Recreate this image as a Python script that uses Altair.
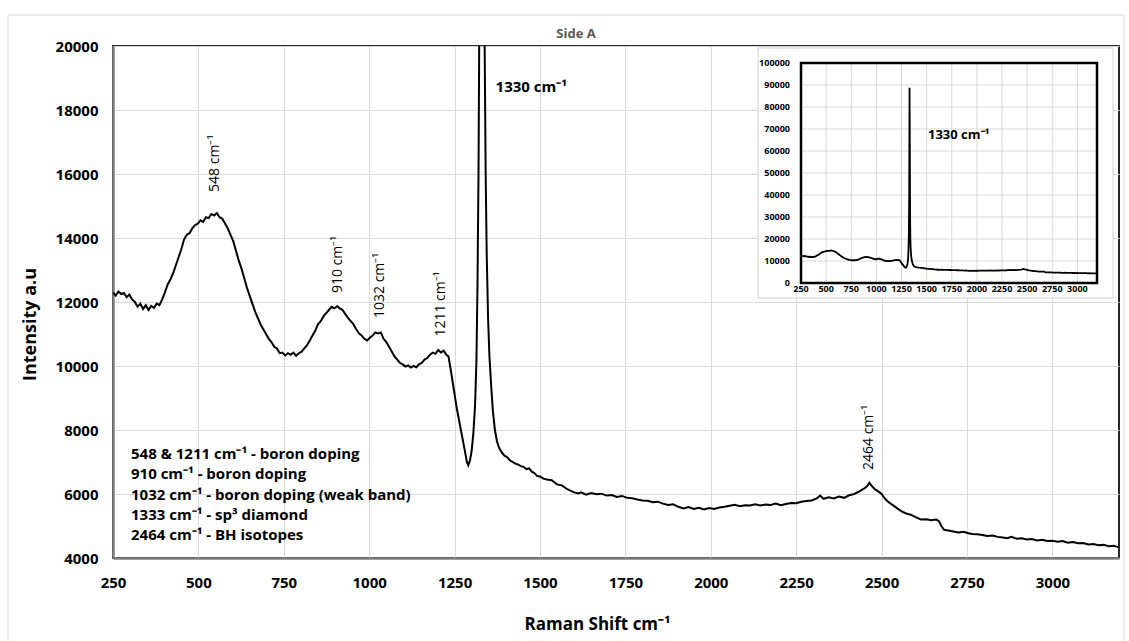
import altair as alt
import pandas as pd

# ---------------- data ----------------
raman_shift = [
    250, 258, 266, 274, 282, 290, 298, 306, 314, 322, 330, 338, 346, 354, 362, 370, 378, 386, 394,
    402, 410, 418, 426, 434, 442, 450, 458, 466, 474, 482, 490, 498, 506, 514, 522, 530, 538, 546,
    554, 562, 570, 578, 586, 594, 602, 610, 618, 626, 634, 642, 650, 658, 666, 674, 682, 690, 698,
    706, 714, 722, 730, 738, 746, 754, 762, 770, 778, 786, 794, 802, 810, 818, 826, 834, 842, 850,
    858, 866, 874, 882, 890, 898, 906, 914, 922, 930, 938, 946, 954, 962, 970, 978, 986, 994, 1002,
    1010, 1018, 1026, 1034, 1042, 1050, 1058, 1066, 1074, 1082, 1090, 1098, 1106, 1114, 1122, 1130,
    1138, 1146, 1154, 1162, 1170, 1178, 1186, 1194, 1202, 1210, 1218, 1226, 1232, 1240, 1248, 1256,
    1264, 1272, 1280, 1286, 1290, 1295, 1300, 1305, 1310, 1314, 1317, 1320, 1323, 1326, 1328, 1330,
    1332, 1334, 1336, 1338, 1341, 1344, 1348, 1352, 1357, 1362, 1368, 1374, 1380, 1388, 1396, 1404,
    1412, 1420, 1428, 1436, 1444, 1452, 1460, 1468, 1476, 1484, 1492, 1500, 1510, 1520, 1534, 1550,
    1564, 1580, 1600, 1613, 1620, 1635, 1650, 1665, 1680, 1695, 1710, 1725, 1740, 1755, 1770, 1785,
    1800, 1815, 1830, 1845, 1860, 1875, 1890, 1905, 1920, 1935, 1950, 1965, 1980, 1995, 2010, 2025,
    2040, 2055, 2070, 2085, 2100, 2115, 2130, 2145, 2160, 2175, 2190, 2205, 2220, 2235, 2250, 2265,
    2280, 2295, 2310, 2320, 2330, 2345, 2360, 2375, 2390, 2405, 2420, 2435, 2450, 2458, 2464, 2470,
    2480, 2490, 2500, 2510, 2520, 2537, 2550, 2560, 2570, 2585, 2600, 2615, 2630, 2645, 2660, 2668,
    2675, 2683, 2695, 2710, 2725, 2740, 2752, 2765, 2780, 2795, 2810, 2825, 2840, 2855, 2868, 2880,
    2895, 2910, 2925, 2940, 2955, 2970, 2985, 3000, 3015, 3030, 3045, 3060, 3075, 3090, 3105, 3120,
    3135, 3150, 3165, 3180, 3192,
]
intensity = [
    12300, 12200, 12330, 12250, 12280, 12150, 12230, 12080, 12000, 11850, 11950, 11780, 11900, 11750,
    11880, 11820, 11950, 11900, 12080, 12300, 12550, 12700, 12900, 13150, 13400, 13650, 13950, 14100,
    14150, 14300, 14400, 14450, 14550, 14500, 14650, 14620, 14750, 14700, 14780, 14650, 14600, 14450,
    14300, 14100, 13900, 13600, 13300, 13050, 12750, 12450, 12200, 11950, 11700, 11500, 11300, 11150,
    11000, 10850, 10750, 10600, 10550, 10400, 10420, 10330, 10400, 10350, 10420, 10320, 10400, 10450,
    10550, 10650, 10800, 10950, 11100, 11300, 11400, 11550, 11650, 11750, 11850, 11800, 11870, 11800,
    11750, 11620, 11500, 11400, 11300, 11150, 11020, 10950, 10850, 10800, 10880, 10950, 11050, 11020,
    11050, 10850, 10750, 10600, 10450, 10300, 10200, 10100, 10050, 9980, 10020, 9950, 10000, 9960,
    10050, 10100, 10200, 10250, 10350, 10420, 10380, 10500, 10420, 10480, 10350, 10300, 9800, 9250,
    8700, 8250, 7800, 7350, 7000, 6900, 7050, 7350, 7900, 8800, 10200, 12500, 16000, 22000, 38000,
    60000, 88800, 70000, 45000, 28000, 20000, 16000, 13500, 11500, 10300, 9400, 8600, 8000, 7650,
    7450, 7300, 7200, 7150, 7050, 7000, 6950, 6920, 6870, 6850, 6780, 6800, 6700, 6650, 6560, 6550,
    6480, 6450, 6430, 6300, 6270, 6150, 6050, 6020, 6050, 5980, 6030, 5990, 6010, 5950, 5970, 5910,
    5940, 5880, 5870, 5830, 5800, 5790, 5740, 5760, 5700, 5660, 5680, 5600, 5550, 5590, 5530, 5570,
    5520, 5560, 5530, 5580, 5600, 5630, 5660, 5620, 5650, 5640, 5680, 5640, 5670, 5660, 5700, 5650,
    5690, 5720, 5710, 5760, 5780, 5800, 5860, 5950, 5850, 5900, 5860, 5920, 5880, 5960, 6000, 6080,
    6180, 6250, 6350, 6270, 6150, 6080, 6000, 5850, 5750, 5620, 5520, 5450, 5400, 5354, 5280, 5200,
    5210, 5180, 5200, 5150, 5000, 4880, 4860, 4830, 4800, 4820, 4780, 4750, 4740, 4720, 4690, 4700,
    4660, 4640, 4620, 4660, 4600, 4620, 4580, 4590, 4550, 4570, 4530, 4540, 4510, 4530, 4480, 4500,
    4460, 4470, 4420, 4440, 4400, 4410, 4370, 4380, 4340,
]

x_ticks = [250, 500, 750, 1000, 1250, 1500, 1750, 2000, 2250, 2500, 2750, 3000]
y_ticks = [4000, 6000, 8000, 10000, 12000, 14000, 16000, 18000, 20000]
inset_y_ticks = [0, 10000, 20000, 30000, 40000, 50000, 60000, 70000, 80000, 90000, 100000]

peak_names = ["548 cm⁻¹", "910 cm⁻¹", "1032 cm⁻¹", "1211 cm⁻¹", "2464 cm⁻¹"]
peak_x = [548, 910, 1032, 1211, 2464]
peak_label_y = [15440, 12280, 11500, 10920, 6750]

chart_title = "Side A"
main_peak_label = "1330 cm⁻¹"
legend_lines = [
    "548 & 1211 cm⁻¹ - boron doping",
    "910 cm⁻¹ - boron doping",
    "1032 cm⁻¹ - boron doping (weak band)",
    "1333 cm⁻¹ - sp³ diamond",
    "2464 cm⁻¹ - BH isotopes",
]

# ---------------- tables ----------------
spec = pd.DataFrame({"x": raman_shift, "y": intensity})
peaks = pd.DataFrame({"x": peak_x, "y": peak_label_y, "label": peak_names})
one = pd.DataFrame({"x": [1370], "y": [18730], "label": [main_peak_label]})
legend_df = pd.DataFrame({"txt": ["\n".join(legend_lines)]})
title_df = pd.DataFrame({"txt": [chart_title]})
gx = pd.DataFrame({"gx": x_ticks})
gy = pd.DataFrame({"gy": inset_y_ticks})
dummy = pd.DataFrame({"a": [0]})

FONT = "Open Sans"
XMIN, XMAX = 250, 3195

# ---------------- main panel ----------------
xs = alt.Scale(domain=[XMIN, XMAX], nice=False, zero=False)
ys = alt.Scale(domain=[4000, 20000], nice=False, zero=False)

x_axis = alt.Axis(
    values=x_ticks, format="d", title="Raman Shift cm⁻¹", grid=True, gridColor="#d9d9d9",
    gridWidth=1, ticks=False, labelFont=FONT, labelFontWeight="bold", labelFontSize=15,
    labelColor="black", labelPadding=17, labelFlush=False, labelOverlap=False,
    domainColor="#7f7f7f", domainWidth=2.5,
    titleFont=FONT, titleFontSize=17, titleFontWeight="bold", titleColor="black",
    titleX=484, titleY=58, titleAlign="center", titleBaseline="top",
)
y_axis = alt.Axis(
    values=y_ticks, format="d", title="Intensity a.u", grid=True, gridColor="#d9d9d9",
    gridWidth=1, ticks=False, labelFont=FONT, labelFontWeight="bold", labelFontSize=15,
    labelColor="black", labelPadding=15, labelFlush=False, labelOverlap=False,
    domainColor="#7f7f7f", domainWidth=2.5,
    titleFont=FONT, titleFontSize=18, titleFontWeight="bold", titleColor="black",
    titleX=-83, titleY=278, titleAngle=270, titleAlign="center", titleBaseline="middle",
)

def X(field):
    return alt.X(field, type="quantitative", scale=xs, axis=x_axis)

def Y(field):
    return alt.Y(field, type="quantitative", scale=ys, axis=y_axis)

page_border = alt.Chart(dummy).mark_rect(fill=None, stroke="#d9d9d9", strokeWidth=1).encode(
    x=alt.value(-105), x2=alt.value(1011), y=alt.value(-31), y2=alt.value(640)
)

title_text = alt.Chart(title_df).mark_text(
    align="center", baseline="middle", font=FONT, fontSize=13, fontWeight="bold", color="#595959"
).encode(text="txt:N", x=alt.value(463), y=alt.value(-12))

main_line = alt.Chart(spec).mark_line(color="black", strokeWidth=2, clip=True).encode(
    x=X("x"), y=Y("y")
)

peak_text = alt.Chart(peaks).mark_text(
    angle=270, align="left", baseline="middle", font=FONT, fontSize=14, color="black"
).encode(x=X("x"), y=Y("y"), text="label:N")

big_peak_text = alt.Chart(one).mark_text(
    align="left", baseline="middle", font=FONT, fontSize=15, fontWeight="bold", color="black"
).encode(x=X("x"), y=Y("y"), text="label:N")

legend_text = alt.Chart(legend_df).mark_text(
    align="left", baseline="middle", font=FONT, fontSize=15, fontWeight="bold",
    color="black", lineBreak="\n", lineHeight=20.3,
).encode(text="txt:N", x=alt.value(18), y=alt.value(408))

main = alt.layer(page_border, title_text, main_line, peak_text, big_peak_text, legend_text)

# ---------------- inset panel ----------------
ixs = alt.Scale(domain=[XMIN, XMAX], range=[688, 984], nice=False, zero=False)
iys = alt.Scale(domain=[0, 100000], range=[237, 17], nice=False, zero=False)

def IX(field=None, datum=None):
    if datum is not None:
        return alt.X(datum=datum, type="quantitative", scale=ixs, axis=None)
    return alt.X(field, type="quantitative", scale=ixs, axis=None)

def IY(field=None, datum=None):
    if datum is not None:
        return alt.Y(datum=datum, type="quantitative", scale=iys, axis=None)
    return alt.Y(field, type="quantitative", scale=iys, axis=None)

inset_box = alt.Chart(dummy).mark_rect(fill="white", stroke="#d0d0d0", strokeWidth=1).encode(
    x=alt.value(645), x2=alt.value(1000), y=alt.value(2), y2=alt.value(252)
)

inset_vgrid = alt.Chart(gx).mark_rule(color="#d9d9d9", strokeWidth=1).encode(
    x=IX("gx"), y=IY(datum=0), y2=alt.Y2(datum=100000)
)
inset_hgrid = alt.Chart(gy).mark_rule(color="#d9d9d9", strokeWidth=1).encode(
    y=IY("gy"), x=IX(datum=XMIN), x2=alt.X2(datum=XMAX)
)
inset_line = alt.Chart(spec).mark_line(color="black", strokeWidth=1.8).encode(
    x=IX("x"), y=IY("y")
)
inset_frame = alt.Chart(dummy).mark_rect(fill=None, stroke="black", strokeWidth=2.5).encode(
    x=IX(datum=XMIN), x2=alt.X2(datum=XMAX), y=IY(datum=0), y2=alt.Y2(datum=100000)
)
inset_xlab = alt.Chart(gx).mark_text(
    baseline="middle", align="center", dy=6, font=FONT, fontSize=9, fontWeight="bold", color="black"
).encode(x=IX("gx"), y=IY(datum=0), text=alt.Text("gx:Q", format="d"))
inset_ylab = alt.Chart(gy).mark_text(
    baseline="middle", align="right", dx=-11, font=FONT, fontSize=9, fontWeight="bold", color="black"
).encode(y=IY("gy"), x=IX(datum=XMIN), text=alt.Text("gy:Q", format="d"))
inset_peak = alt.Chart(one).mark_text(
    align="left", baseline="middle", font=FONT, fontSize=13, fontWeight="bold", color="black"
).encode(x=IX(datum=1513), y=IY(datum=67300), text="label:N")

inset = alt.layer(inset_box, inset_vgrid, inset_hgrid, inset_line, inset_frame,
                  inset_xlab, inset_ylab, inset_peak)

chart = (
    alt.layer(main, inset)
    .resolve_scale(x="independent", y="independent")
    .properties(
        width=1006, height=512,
        padding={"left": 113, "top": 46, "right": 10, "bottom": 83},
        autosize=alt.AutoSizeParams(type="none"),
        background="white",
    )
    .configure_view(stroke="#262626", strokeWidth=2)
)

chart.save("out.html", embed_options={"renderer": "svg", "actions": False})
